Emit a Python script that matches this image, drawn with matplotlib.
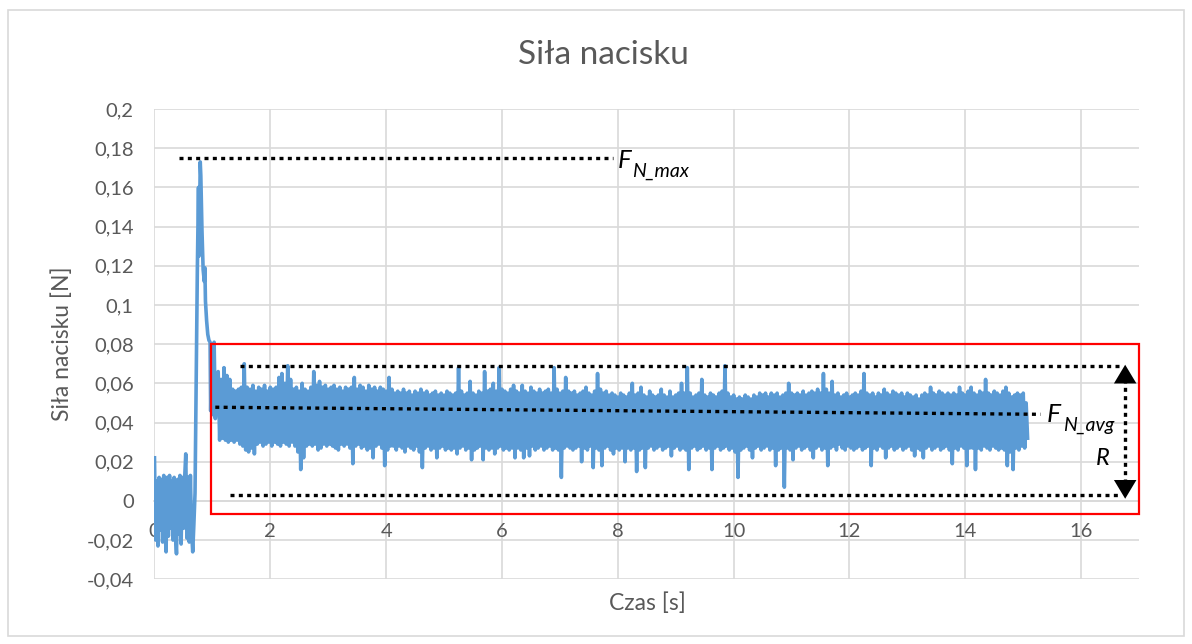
import numpy as np
import matplotlib
matplotlib.use("Agg")
import matplotlib.pyplot as plt
from matplotlib.patches import Rectangle
from matplotlib.ticker import FuncFormatter, MultipleLocator

# sensor idle before contact, one sample every 0.02 s from t = 0
idle_force = [0.022, -0.020, 0.010, -0.023, 0.012, -0.015, 0.011, -0.021, 0.013, -0.012,
              -0.026, 0.012, -0.018, 0.013, -0.014, 0.010, -0.020, 0.012, -0.016, -0.027,
              0.011, -0.017, 0.013, -0.022, 0.012, -0.014, 0.011, 0.024, -0.019, 0.012,
              -0.021, 0.013, -0.015, -0.026, -0.012]

# contact: sharp rise to the peak, then relaxation
impact_time = [0.70, 0.72, 0.74, 0.76, 0.77, 0.78, 0.79, 0.80, 0.82, 0.84, 0.86,
               0.87, 0.88, 0.90, 0.92, 0.94, 0.96, 0.97, 0.99, 1.01, 1.03, 1.05]
impact_force = [0.004, 0.060, 0.118, 0.160, 0.125, 0.150, 0.173, 0.166, 0.138, 0.118, 0.112,
                0.119, 0.102, 0.092, 0.085, 0.082, 0.081, 0.046, 0.080, 0.044, 0.081, 0.042]

# steady pressing from 1.1 s: local maxima every 0.05 s (one row = 1 s),
# each followed by a local minimum 0.025 s later
steady_tops = [
    0.066, 0.062, 0.068, 0.064, 0.062, 0.057, 0.056, 0.057, 0.058, 0.070, 0.058, 0.057, 0.059, 0.056, 0.058, 0.057, 0.059, 0.056, 0.058, 0.057,
    0.058, 0.063, 0.065, 0.060, 0.069, 0.062, 0.057, 0.058, 0.056, 0.060, 0.057, 0.056, 0.058, 0.066, 0.059, 0.061, 0.058, 0.059, 0.057, 0.058,
    0.059, 0.057, 0.058, 0.056, 0.058, 0.057, 0.058, 0.063, 0.057, 0.059, 0.058, 0.056, 0.059, 0.057, 0.058, 0.056, 0.058, 0.057, 0.056, 0.063,
    0.057, 0.055, 0.056, 0.055, 0.057, 0.055, 0.056, 0.054, 0.056, 0.055, 0.057, 0.055, 0.056, 0.054, 0.055, 0.056, 0.054, 0.055, 0.054, 0.056,
    0.055, 0.054, 0.055, 0.068, 0.056, 0.054, 0.055, 0.061, 0.055, 0.054, 0.056, 0.055, 0.066, 0.056, 0.057, 0.060, 0.056, 0.068, 0.057, 0.056,
    0.055, 0.057, 0.059, 0.056, 0.055, 0.059, 0.056, 0.055, 0.058, 0.056, 0.055, 0.057, 0.055, 0.056, 0.057, 0.055, 0.068, 0.057, 0.055, 0.056,
    0.063, 0.056, 0.055, 0.056, 0.054, 0.055, 0.056, 0.058, 0.055, 0.054, 0.056, 0.065, 0.057, 0.055, 0.056, 0.054, 0.055, 0.054, 0.053, 0.055,
    0.054, 0.053, 0.055, 0.060, 0.054, 0.055, 0.058, 0.054, 0.053, 0.056, 0.054, 0.053, 0.054, 0.057, 0.054, 0.053, 0.056, 0.053, 0.054, 0.055,
    0.060, 0.055, 0.068, 0.055, 0.053, 0.054, 0.055, 0.062, 0.054, 0.053, 0.055, 0.054, 0.053, 0.055, 0.056, 0.069, 0.055, 0.053, 0.054, 0.052,
    0.053, 0.052, 0.054, 0.053, 0.052, 0.054, 0.053, 0.055, 0.054, 0.055, 0.053, 0.055, 0.054, 0.055, 0.053, 0.054, 0.055, 0.060, 0.055, 0.054,
    0.055, 0.054, 0.056, 0.054, 0.055, 0.056, 0.055, 0.057, 0.055, 0.065, 0.057, 0.055, 0.061, 0.054, 0.055, 0.053, 0.054, 0.055, 0.053, 0.054,
    0.055, 0.054, 0.056, 0.065, 0.055, 0.054, 0.055, 0.053, 0.055, 0.054, 0.057, 0.055, 0.054, 0.056, 0.055, 0.054, 0.055, 0.053, 0.055, 0.054,
    0.053, 0.054, 0.052, 0.054, 0.055, 0.054, 0.058, 0.055, 0.054, 0.056, 0.055, 0.054, 0.055, 0.054, 0.055, 0.054, 0.058, 0.055, 0.054, 0.056,
    0.058, 0.055, 0.054, 0.056, 0.055, 0.062, 0.055, 0.054, 0.056, 0.055, 0.054, 0.056, 0.058, 0.055, 0.053, 0.054, 0.055, 0.054, 0.055, 0.050,
]
steady_bottoms = [
    0.031, 0.032, 0.031, 0.030, 0.031, 0.030, 0.031, 0.029, 0.028, 0.026, 0.025, 0.027, 0.024, 0.029, 0.030, 0.028, 0.029, 0.030, 0.028, 0.030,
    0.029, 0.028, 0.030, 0.029, 0.028, 0.030, 0.028, 0.025, 0.016, 0.022, 0.028, 0.029, 0.028, 0.029, 0.026, 0.027, 0.029, 0.028, 0.029, 0.028,
    0.027, 0.026, 0.029, 0.028, 0.029, 0.027, 0.019, 0.028, 0.029, 0.027, 0.028, 0.026, 0.027, 0.022, 0.028, 0.029, 0.027, 0.018, 0.026, 0.028,
    0.028, 0.026, 0.028, 0.027, 0.025, 0.028, 0.027, 0.026, 0.028, 0.025, 0.017, 0.027, 0.028, 0.026, 0.027, 0.022, 0.027, 0.028, 0.026, 0.027,
    0.026, 0.027, 0.024, 0.027, 0.028, 0.026, 0.027, 0.021, 0.026, 0.027, 0.028, 0.021, 0.027, 0.026, 0.027, 0.024, 0.027, 0.028, 0.026, 0.027,
    0.026, 0.027, 0.022, 0.027, 0.026, 0.022, 0.027, 0.023, 0.028, 0.026, 0.027, 0.028, 0.026, 0.027, 0.028, 0.026, 0.027, 0.026, 0.012, 0.027,
    0.028, 0.027, 0.026, 0.027, 0.028, 0.020, 0.027, 0.026, 0.028, 0.017, 0.027, 0.026, 0.018, 0.027, 0.028, 0.026, 0.024, 0.027, 0.026, 0.027,
    0.020, 0.027, 0.026, 0.027, 0.015, 0.026, 0.027, 0.017, 0.027, 0.028, 0.026, 0.027, 0.028, 0.026, 0.027, 0.028, 0.023, 0.027, 0.028, 0.026,
    0.027, 0.026, 0.016, 0.027, 0.028, 0.026, 0.027, 0.028, 0.026, 0.027, 0.016, 0.027, 0.028, 0.026, 0.027, 0.028, 0.026, 0.027, 0.025, 0.012,
    0.026, 0.027, 0.028, 0.026, 0.022, 0.027, 0.028, 0.026, 0.027, 0.028, 0.026, 0.027, 0.018, 0.026, 0.027, 0.007, 0.027, 0.026, 0.021, 0.027,
    0.028, 0.026, 0.027, 0.028, 0.026, 0.022, 0.027, 0.028, 0.026, 0.027, 0.018, 0.027, 0.028, 0.026, 0.029, 0.027, 0.026, 0.028, 0.027, 0.026,
    0.027, 0.028, 0.026, 0.027, 0.028, 0.018, 0.027, 0.026, 0.028, 0.027, 0.022, 0.027, 0.028, 0.026, 0.027, 0.028, 0.026, 0.027, 0.028, 0.026,
    0.023, 0.027, 0.026, 0.022, 0.027, 0.028, 0.026, 0.027, 0.028, 0.026, 0.027, 0.028, 0.026, 0.019, 0.027, 0.026, 0.028, 0.027, 0.018, 0.027,
    0.027, 0.016, 0.027, 0.026, 0.028, 0.027, 0.026, 0.028, 0.027, 0.026, 0.027, 0.026, 0.018, 0.025, 0.016, 0.027, 0.026, 0.028, 0.027, 0.032,
]

# annotation levels [N] and times [s]
f_max_level = 0.175
range_top = 0.069
range_bottom = 0.0031
avg_start = (1.05, 0.0478)
avg_end = (15.3, 0.0442)
box_t = (0.97, 17.0)
box_f = (-0.0069, 0.08)
arrow_t = 16.76

GREY_TXT = "#595959"
GRID = "#d9d9d9"
BLUE = "#5b9bd5"

plt.rcParams["font.family"] = ["Lato", "DejaVu Sans"]

# assemble the full signal
idle_time = np.arange(len(idle_force)) * 0.02
top_time = 1.1 + np.arange(len(steady_tops)) * 0.05
steady_time = np.empty(2 * len(steady_tops))
steady_time[0::2] = top_time
steady_time[1::2] = top_time + 0.025
steady_force = np.empty(2 * len(steady_tops))
steady_force[0::2] = steady_tops
steady_force[1::2] = steady_bottoms

time = np.concatenate([idle_time, impact_time, steady_time])
force = np.concatenate([idle_force, impact_force, steady_force])

fig = plt.figure(figsize=(11.92, 6.44), dpi=100)
ax = fig.add_axes([0.1296, 0.1005, 0.826, 0.7302])

ax.plot(time, force, color=BLUE, lw=2.6, zorder=3, solid_joinstyle="round")

ax.set_xlim(0, 17)
ax.set_ylim(-0.04, 0.2)
ax.yaxis.set_major_locator(MultipleLocator(0.02))
ax.set_xticks(np.arange(0, 17, 2))


def pl_fmt(v, pos):
    v = round(v, 2)
    if v == 0:
        return "0"
    return ("%.2f" % v).rstrip("0").rstrip(".").replace(".", ",")


ax.yaxis.set_major_formatter(FuncFormatter(pl_fmt))
ax.xaxis.set_major_formatter(FuncFormatter(lambda v, p: "%d" % v))
ax.grid(True, color=GRID, lw=1.2)
ax.set_axisbelow(True)
for s in ["top", "right", "left"]:
    ax.spines[s].set_visible(False)
ax.spines["bottom"].set_position(("data", 0))
ax.spines["bottom"].set_color(GRID)
ax.spines["bottom"].set_linewidth(1.2)
ax.tick_params(axis="both", length=0, labelcolor=GREY_TXT, labelsize=14.5)
ax.tick_params(axis="x", pad=16)
ax.tick_params(axis="y", pad=15)

# dotted guide lines
dot = dict(color="black", lw=2.4, linestyle=(0, (1.2, 1.3)), zorder=4)
ax.plot([0.43, 7.92], [f_max_level, f_max_level], **dot)
ax.plot([1.47, 16.68], [range_top, range_top], **dot)
ax.plot([1.30, 16.68], [range_bottom, range_bottom], **dot)
ax.plot([avg_start[0], avg_end[0]], [avg_start[1], avg_end[1]], **dot)

# range arrow
ax.plot([arrow_t, arrow_t], [range_bottom + 0.006, range_top - 0.006], **dot)
head = dict(arrowstyle="-|>,head_length=0.5,head_width=0.3", color="black",
            lw=0, shrinkA=0, shrinkB=0, mutation_scale=27)
ax.annotate("", xy=(arrow_t, range_top + 0.0005), xytext=(arrow_t, range_top - 0.006),
            arrowprops=head, zorder=5)
ax.annotate("", xy=(arrow_t, range_bottom - 0.002), xytext=(arrow_t, range_bottom + 0.005),
            arrowprops=head, zorder=5)

# area of steady pressing
ax.add_patch(Rectangle((box_t[0], box_f[0]), box_t[1] - box_t[0], box_f[1] - box_f[0],
                       fill=False, edgecolor="#ff0000", lw=1.6, zorder=5, clip_on=False))

# labels of the marked quantities
ax.text(7.99, 0.1697, "F", style="italic", fontsize=18.5, ha="left", va="baseline", zorder=6)
ax.annotate("N_max", xy=(7.99, 0.1697), xytext=(15, -8), textcoords="offset pixels",
            style="italic", fontsize=14, ha="left", va="baseline", zorder=6)
ax.text(15.405, 0.0405, "F", style="italic", fontsize=19, ha="left", va="baseline", zorder=6)
ax.annotate("N_avg", xy=(15.405, 0.0405), xytext=(16, -9), textcoords="offset pixels",
            style="italic", fontsize=14, ha="left", va="baseline", zorder=6)
ax.text(16.37, 0.0184, "R", style="italic", fontsize=17, ha="center", va="baseline", zorder=6)

fig.text(0.506, 0.9146, "Siła nacisku", color=GREY_TXT, fontsize=24, ha="center", va="center")
fig.text(0.543, 0.0637, "Czas [s]", color=GREY_TXT, fontsize=16.5, ha="center", va="center")
fig.text(0.052, 0.466, "Siła nacisku [N]", color=GREY_TXT, fontsize=16.5, ha="center",
         va="center", rotation=90)

# chart area frame
fig.patches.append(Rectangle((8 / 1192, 1 - 636 / 644), 1176 / 1192, 626 / 644,
                             transform=fig.transFigure, fill=False, edgecolor=GRID, lw=1.2))

fig.savefig("out.png", dpi=100)
